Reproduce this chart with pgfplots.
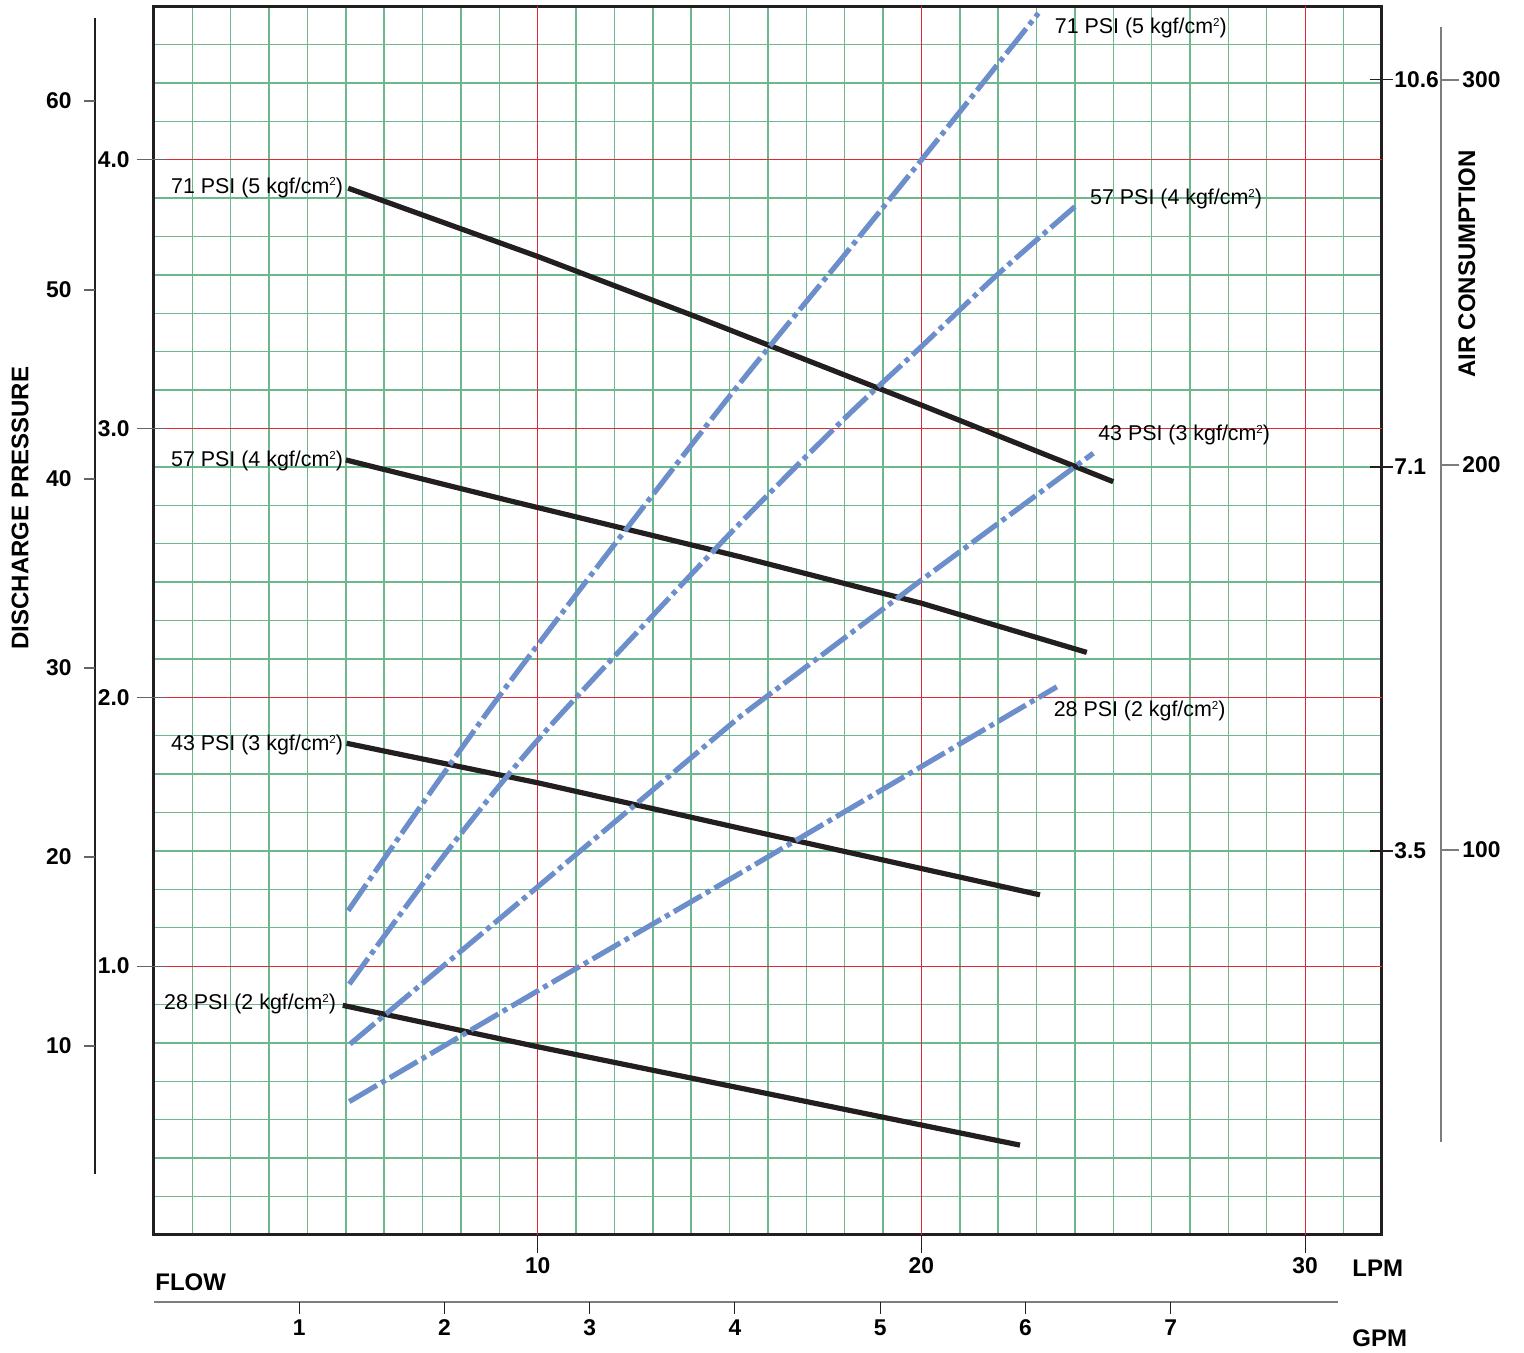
\documentclass[border=0pt]{standalone}
\usepackage{fontspec}
\setmainfont{Liberation Sans}
\usepackage{pgfplots}
\pgfplotsset{compat=1.18}

\definecolor{gridgreen}{RGB}{108,184,140}
\definecolor{gridred}{RGB}{228,40,48}
\definecolor{curveblk}{RGB}{35,31,32}
\definecolor{curveblue}{RGB}{108,142,203}
\definecolor{tickgray}{RGB}{100,100,100}
\definecolor{axgray}{RGB}{125,125,125}

\newcommand{\sq}{\raisebox{3.6pt}{\fontsize{5.8}{6}\selectfont 2}}
\newcommand{\lbl}[2]{#1 PSI (#2 kgf/cm\sq)}
\newcommand{\tickf}{\fontsize{11.4}{13}\selectfont\bfseries}
\newcommand{\titf}{\fontsize{12}{14}\selectfont\bfseries}
\newcommand{\lblf}{\fontsize{10.7}{12}\selectfont}

\begin{document}
\begin{tikzpicture}
\begin{axis}[
  scale only axis, width=613.9pt, height=614.4pt,
  xmin=0, xmax=32, ymin=0, ymax=4.571429,
  clip=false,
  axis line style={curveblk, line width=1.5pt},
  xtick={1,2,3,4,5,6,7,8,9,11,12,13,14,15,16,17,18,19,21,22,23,24,25,26,27,28,29,31},
  ytick={0.142857,0.285714,0.428571,0.571429,0.714286,0.857143,
         1.142857,1.285714,1.428571,1.571429,1.714286,1.857143,
         2.142857,2.285714,2.428571,2.571429,2.714286,2.857143,
         3.142857,3.285714,3.428571,3.571429,3.714286,3.857143,
         4.142857,4.285714,4.428571},
  xticklabels={}, yticklabels={},
  major tick length=0pt,
  grid=major,
  major grid style={gridgreen, line width=0.75pt},
  extra x ticks={10,20,30}, extra y ticks={1,2,3,4},
  extra x tick labels={}, extra y tick labels={},
  extra tick style={major grid style={gridred, line width=0.6pt}, major tick length=0pt},
]
% ---- black: discharge pressure curves
\addplot[curveblk, line width=2.6pt] coordinates {(5.06,3.894) (10.0,3.640) (14.23,3.410) (20.0,3.087) (25.0,2.802)};
\addplot[curveblk, line width=2.6pt] coordinates {(5.0,2.883) (9.19,2.734) (15.27,2.523) (20.0,2.350) (24.31,2.167)};
\addplot[curveblk, line width=2.6pt] coordinates {(5.02,1.829) (10.0,1.682) (15.27,1.513) (23.09,1.265)};
\addplot[curveblk, line width=2.6pt] coordinates {(4.92,0.854) (10.0,0.700) (22.57,0.334)};
% ---- blue: air consumption curves
\addplot[curveblue, line width=2.6pt, smooth, tension=0.5, dash pattern=on 16pt off 2.5pt on 2.5pt off 2.5pt] coordinates {(5.06,1.206) (8.95,1.995) (14.58,3.044) (17.96,3.639) (20.0,3.999) (23.05,4.545)};
\addplot[curveblue, line width=2.6pt, smooth, tension=0.5, dash pattern=on 16pt off 2.5pt on 2.5pt off 2.5pt] coordinates {(5.09,0.933) (7.63,1.425) (10.0,1.841) (13.01,2.306) (15.27,2.647) (17.96,3.032) (20.0,3.305) (22.0,3.575) (24.0,3.825)};
\addplot[curveblue, line width=2.6pt, dash pattern=on 16pt off 2.5pt on 2.5pt off 2.5pt] coordinates {(5.11,0.710) (10.0,1.295) (15.27,1.928) (20.0,2.436) (24.48,2.908)};
\addplot[curveblue, line width=2.6pt, dash pattern=on 16pt off 2.5pt on 2.5pt off 2.5pt] coordinates {(5.09,0.496) (10.0,0.908) (15.27,1.345) (23.53,2.039)};

% ---- curve labels
\node[anchor=base west, inner sep=0pt, font=\lblf] at (axis cs:0.4378,3.876) {\lbl{71}{5}};
\node[anchor=base west, inner sep=0pt, font=\lblf] at (axis cs:0.4378,2.859) {\lbl{57}{4}};
\node[anchor=base west, inner sep=0pt, font=\lblf] at (axis cs:0.4378,1.801) {\lbl{43}{3}};
\node[anchor=base west, inner sep=0pt, font=\lblf] at (axis cs:0.2554,0.8385) {\lbl{28}{2}};
\node[anchor=base west, inner sep=0pt, font=\lblf] at (axis cs:23.47,4.469) {\lbl{71}{5}};
\node[anchor=base west, inner sep=0pt, font=\lblf] at (axis cs:24.39,3.833) {\lbl{57}{4}};
\node[anchor=base west, inner sep=0pt, font=\lblf] at (axis cs:24.60,2.955) {\lbl{43}{3}};
\node[anchor=base west, inner sep=0pt, font=\lblf] at (axis cs:23.44,1.929) {\lbl{28}{2}};

% ---- outer PSI scale (left)
\draw[curveblk, line width=0.55pt] (axis cs:-1.5377,4.5271) -- (axis cs:-1.5377,0.2266);
\draw[tickgray, line width=0.6pt] (axis cs:-1.824,0.7031) -- (axis cs:-1.538,0.7031);
\draw[tickgray, line width=0.6pt] (axis cs:-1.824,1.4062) -- (axis cs:-1.538,1.4062);
\draw[tickgray, line width=0.6pt] (axis cs:-1.824,2.1093) -- (axis cs:-1.538,2.1093);
\draw[tickgray, line width=0.6pt] (axis cs:-1.824,2.8123) -- (axis cs:-1.538,2.8123);
\draw[tickgray, line width=0.6pt] (axis cs:-1.824,3.5154) -- (axis cs:-1.538,3.5154);
\draw[tickgray, line width=0.6pt] (axis cs:-1.824,4.2185) -- (axis cs:-1.538,4.2185);
\node[anchor=east, inner sep=0pt, font=\tickf] at (axis cs:-2.137,0.7031) {10};
\node[anchor=east, inner sep=0pt, font=\tickf] at (axis cs:-2.137,1.4062) {20};
\node[anchor=east, inner sep=0pt, font=\tickf] at (axis cs:-2.137,2.1093) {30};
\node[anchor=east, inner sep=0pt, font=\tickf] at (axis cs:-2.137,2.8123) {40};
\node[anchor=east, inner sep=0pt, font=\tickf] at (axis cs:-2.137,3.5154) {50};
\node[anchor=east, inner sep=0pt, font=\tickf] at (axis cs:-2.137,4.2185) {60};
\node[rotate=90, font=\titf] at (axis cs:-3.492,2.704) {DISCHARGE PRESSURE};

% ---- inner kgf/cm2 scale (left)
\draw[tickgray, line width=0.6pt] (axis cs:-0.443,1) -- (axis cs:0.3127,1);
\draw[tickgray, line width=0.6pt] (axis cs:-0.443,2) -- (axis cs:0.3127,2);
\draw[tickgray, line width=0.6pt] (axis cs:-0.443,3) -- (axis cs:0.3127,3);
\draw[tickgray, line width=0.6pt] (axis cs:-0.443,4) -- (axis cs:0.3127,4);
\node[anchor=east, inner sep=0pt, font=\tickf] at (axis cs:-0.6255,1) {1.0};
\node[anchor=east, inner sep=0pt, font=\tickf] at (axis cs:-0.6255,2) {2.0};
\node[anchor=east, inner sep=0pt, font=\tickf] at (axis cs:-0.6255,3) {3.0};
\node[anchor=east, inner sep=0pt, font=\tickf] at (axis cs:-0.6255,4) {4.0};

% ---- LPM scale (bottom)
\draw[curveblk, line width=0.55pt] (axis cs:10,0) -- (axis cs:10,-0.0674);
\draw[curveblk, line width=0.55pt] (axis cs:20,0) -- (axis cs:20,-0.0674);
\draw[curveblk, line width=0.55pt] (axis cs:30,0) -- (axis cs:30,-0.0674);
\node[inner sep=0pt, font=\tickf] at (axis cs:10,-0.1157) {10};
\node[inner sep=0pt, font=\tickf] at (axis cs:20,-0.1157) {20};
\node[inner sep=0pt, font=\tickf] at (axis cs:30,-0.1157) {30};
\node[anchor=west, inner sep=0pt, font=\titf] at (axis cs:31.222,-0.1231) {LPM};
\node[anchor=west, inner sep=0pt, font=\titf] at (axis cs:0.026,-0.1752) {FLOW};

% ---- GPM scale (bottom)
\draw[axgray, line width=0.55pt] (axis cs:0,-0.2496) -- (axis cs:30.857,-0.2496);
\draw[curveblk, line width=0.5pt] (axis cs:3.7854,-0.2496) -- (axis cs:3.7854,-0.2943);
\draw[curveblk, line width=0.5pt] (axis cs:7.5708,-0.2496) -- (axis cs:7.5708,-0.2943);
\draw[curveblk, line width=0.5pt] (axis cs:11.3562,-0.2496) -- (axis cs:11.3562,-0.2943);
\draw[curveblk, line width=0.5pt] (axis cs:15.1416,-0.2496) -- (axis cs:15.1416,-0.2943);
\draw[curveblk, line width=0.5pt] (axis cs:18.9271,-0.2496) -- (axis cs:18.9271,-0.2943);
\draw[curveblk, line width=0.5pt] (axis cs:22.7125,-0.2496) -- (axis cs:22.7125,-0.2943);
\draw[curveblk, line width=0.5pt] (axis cs:26.4979,-0.2496) -- (axis cs:26.4979,-0.2943);
\node[inner sep=0pt, font=\tickf] at (axis cs:3.7854,-0.3464) {1};
\node[inner sep=0pt, font=\tickf] at (axis cs:7.5708,-0.3464) {2};
\node[inner sep=0pt, font=\tickf] at (axis cs:11.3562,-0.3464) {3};
\node[inner sep=0pt, font=\tickf] at (axis cs:15.1416,-0.3464) {4};
\node[inner sep=0pt, font=\tickf] at (axis cs:18.9271,-0.3464) {5};
\node[inner sep=0pt, font=\tickf] at (axis cs:22.7125,-0.3464) {6};
\node[inner sep=0pt, font=\tickf] at (axis cs:26.4979,-0.3464) {7};
\node[anchor=west, inner sep=0pt, font=\titf] at (axis cs:31.222,-0.3836) {GPM};

% ---- inner right scale
\draw[curveblk, line width=0.55pt] (axis cs:31.691,4.2984) -- (axis cs:32.291,4.2984);
\draw[curveblk, line width=0.55pt] (axis cs:31.691,2.8568) -- (axis cs:32.291,2.8568);
\draw[curveblk, line width=0.55pt] (axis cs:31.691,1.4282) -- (axis cs:32.291,1.4282);
\node[anchor=west, inner sep=0pt, font=\tickf] at (axis cs:32.317,4.2984) {10.6};
\node[anchor=west, inner sep=0pt, font=\tickf] at (axis cs:32.317,2.8568) {7.1};
\node[anchor=west, inner sep=0pt, font=\tickf] at (axis cs:32.317,1.4282) {3.5};

% ---- outer right scale
\draw[axgray, line width=0.65pt] (axis cs:33.542,4.4937) -- (axis cs:33.542,0.3456);
\draw[axgray, line width=0.65pt] (axis cs:33.542,4.2965) -- (axis cs:34.01,4.2965);
\draw[axgray, line width=0.65pt] (axis cs:33.542,2.8642) -- (axis cs:34.01,2.8642);
\draw[axgray, line width=0.65pt] (axis cs:33.542,1.4318) -- (axis cs:34.01,1.4318);
\node[anchor=west, inner sep=0pt, font=\tickf] at (axis cs:34.089,4.2965) {300};
\node[anchor=west, inner sep=0pt, font=\tickf] at (axis cs:34.089,2.8642) {200};
\node[anchor=west, inner sep=0pt, font=\tickf] at (axis cs:34.089,1.4318) {100};
\node[rotate=90, font=\titf] at (axis cs:34.219,3.612) {AIR CONSUMPTION};

\coordinate (bbll) at (axis cs:-4.0136,-0.4356);
\coordinate (bbur) at (axis cs:35.705,4.5941);
\end{axis}
\pgfresetboundingbox
\useasboundingbox (bbll) rectangle (bbur);
\end{tikzpicture}
\end{document}
